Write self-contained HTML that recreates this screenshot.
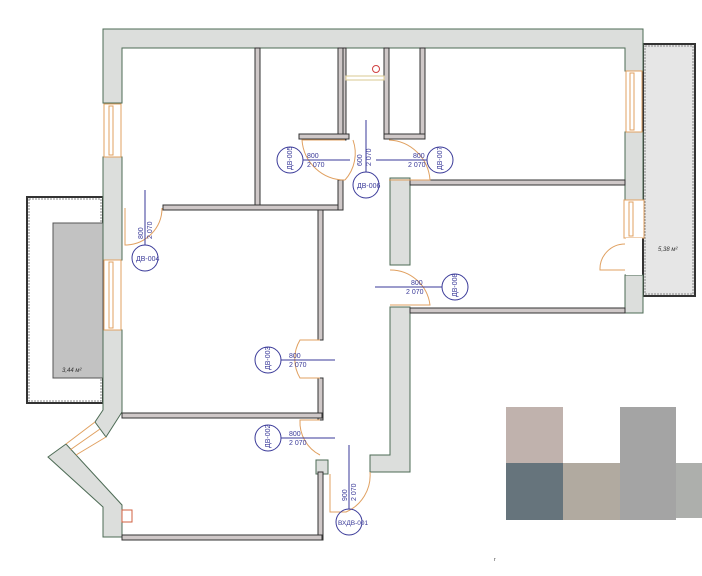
<!DOCTYPE html>
<html><head><meta charset="utf-8"><style>
html,body{margin:0;padding:0;background:#fff;}
svg{display:block;}
text{font-family:"Liberation Sans",sans-serif;}
</style></head><body>
<svg width="702" height="576" viewBox="0 0 702 576" xmlns="http://www.w3.org/2000/svg">
<!-- balconies -->
<rect x="643" y="44" width="52" height="252" fill="#e6e6e6" stroke="#333" stroke-width="2"/>
<rect x="645" y="46" width="48" height="248" fill="none" stroke="#888" stroke-width="1" stroke-dasharray="2 1"/>
<text x="658" y="251" font-size="6" font-style="italic" fill="#333">5,38 м²</text>
<rect x="27" y="197" width="76" height="206" fill="#fff" stroke="#333" stroke-width="2"/>
<rect x="29" y="199" width="72" height="202" fill="none" stroke="#888" stroke-width="1" stroke-dasharray="2 1"/>
<rect x="53" y="223" width="50" height="155" fill="#c2c2c2" stroke="#555" stroke-width="1"/>
<text x="62" y="372" font-size="6" font-style="italic" fill="#333">3,44 м²</text>

<g fill="#dcdedc" stroke="#4d6b55" stroke-width="1">
<path d="M103 29 H643 V71 H625 V48 H122 V103 H103 Z"/>
<rect x="103" y="157" width="19" height="103"/>
<path d="M103 330 H122 V412 L106 437 L95 422 L103 410 Z"/>
<path d="M48 457 L66 444 L122 505 V537 H103 V507 Z"/>
<rect x="625" y="132" width="18" height="68"/>
<rect x="625" y="275" width="18" height="38"/>
<rect x="390" y="178" width="20" height="87"/>
<path d="M390 307 H410 V472 H370 V455 H390 Z"/>
<rect x="316" y="460" width="12" height="14"/>
</g>
<g fill="#fff" stroke="#e0a060" stroke-width="1">
<rect x="104" y="104" width="17" height="53"/><rect x="109" y="106" width="4" height="49"/>
<rect x="104" y="260" width="17" height="70"/><rect x="109" y="262" width="4" height="66"/>
<rect x="626" y="71" width="16" height="61"/><rect x="630" y="73" width="4" height="57"/>
<rect x="624" y="200" width="20" height="38"/><rect x="629" y="202" width="4" height="34"/>
<path d="M66 444 L95 422 M76 455 L106 437 M70 450 L100 429"/>
<rect x="122" y="510" width="10" height="12" fill="none" stroke="#d06040"/>
</g>
<rect x="626" y="238" width="16" height="37" fill="#fff"/>
<g fill="#cfc8c8" stroke="#333" stroke-width="1">
<rect x="255" y="48" width="5" height="159"/>
<rect x="163" y="205" width="180" height="5"/>
<rect x="318" y="210" width="5" height="130"/>
<rect x="318" y="378" width="5" height="42"/>
<rect x="122" y="413" width="200" height="5"/>
<rect x="318" y="472" width="5" height="68"/>
<rect x="122" y="535" width="200" height="5"/>
<rect x="338" y="48" width="5" height="92"/>
<rect x="343" y="48" width="3" height="92"/>
<rect x="384" y="48" width="5" height="90"/>
<rect x="420" y="48" width="5" height="90"/>
<rect x="384" y="134" width="41" height="5"/>
<rect x="299" y="134" width="50" height="5"/>
<rect x="338" y="180" width="5" height="30"/>
<rect x="410" y="180" width="215" height="5"/>
<rect x="410" y="308" width="215" height="5"/>
</g>
<rect x="346" y="76" width="38" height="4" fill="#fff" stroke="#d8c890" stroke-width="1"/>
<circle cx="376" cy="69" r="3.5" fill="none" stroke="#d04040"/>
<g fill="none" stroke="#e0a060" stroke-width="1">
<path d="M125 208 V245 A37 37 0 0 0 162 208"/>
<path d="M345 140 H302 A43 43 0 0 0 345 180"/>
<path d="M353 140 A40 40 0 0 1 345 180"/>
<path d="M389 140 A43 43 0 0 1 430 180 H389"/>
<path d="M390 270 A40 40 0 0 1 430 305 H390"/>
<path d="M320 340 H300 A37 37 0 0 0 300 378 H320"/>
<path d="M320 420 H300 A37 37 0 0 0 320 455"/>
<path d="M330 474 V512 H346 M370 472 A40 40 0 0 1 346 512"/>
<path d="M625 244 A25 25 0 0 0 600 270 H625"/>
</g>
<g stroke="#3a3a99" stroke-width="1" fill="none">
<line x1="145" y1="190" x2="145" y2="245"/>
<line x1="303" y1="160" x2="350" y2="160"/>
<line x1="366" y1="120" x2="366" y2="172"/>
<line x1="376" y1="160" x2="427" y2="160"/>
<line x1="375" y1="287" x2="442" y2="287"/>
<line x1="281" y1="360" x2="335" y2="360"/>
<line x1="281" y1="438" x2="335" y2="438"/>
<line x1="349" y1="445" x2="349" y2="509"/>
<circle cx="145" cy="258" r="13"/>
<circle cx="290" cy="160" r="13"/>
<circle cx="366" cy="185" r="13"/>
<circle cx="440" cy="160" r="13"/>
<circle cx="455" cy="287" r="13"/>
<circle cx="268" cy="360" r="13"/>
<circle cx="268" cy="438" r="13"/>
<circle cx="349" cy="522" r="13"/>
</g>
<g fill="#3a3a99" font-size="7">
<text x="136" y="261">ДВ-004</text>
<text x="357" y="188">ДВ-006</text>
<text x="338" y="525" font-size="6.5">ВХДВ-001</text>
<text x="307" y="158">800</text><text x="307" y="167">2 070</text>
<text x="413" y="158">800</text><text x="408" y="167">2 070</text>
<text x="411" y="285">800</text><text x="406" y="294">2 070</text>
<text x="289" y="358">800</text><text x="289" y="367">2 070</text>
<text x="289" y="436">800</text><text x="289" y="445">2 070</text>
<g transform="translate(143,239) rotate(-90)"><text x="0" y="0">800</text><text x="0" y="9">2 070</text></g>
<g transform="translate(362,166) rotate(-90)"><text x="0" y="0">600</text><text x="0" y="9">2 070</text></g>
<g transform="translate(347,501) rotate(-90)"><text x="0" y="0">900</text><text x="0" y="9">2 070</text></g>
<text transform="translate(292,170) rotate(-90)">ДВ-005</text>
<text transform="translate(442,170) rotate(-90)">ДВ-007</text>
<text transform="translate(457,297) rotate(-90)">ДВ-008</text>
<text transform="translate(270,370) rotate(-90)">ДВ-003</text>
<text transform="translate(270,448) rotate(-90)">ДВ-002</text>
</g>
<rect x="506" y="407" width="57" height="56" fill="#c0b2ad"/>
<rect x="506" y="463" width="57" height="57" fill="#66747c"/>
<rect x="563" y="463" width="57" height="57" fill="#b1aaa0"/>
<rect x="620" y="407" width="56" height="113" fill="#a4a4a4"/>
<rect x="676" y="463" width="26" height="55" fill="#adafac"/>
<text x="494" y="561" font-size="5" fill="#333">r</text>
</svg>
</body></html>
